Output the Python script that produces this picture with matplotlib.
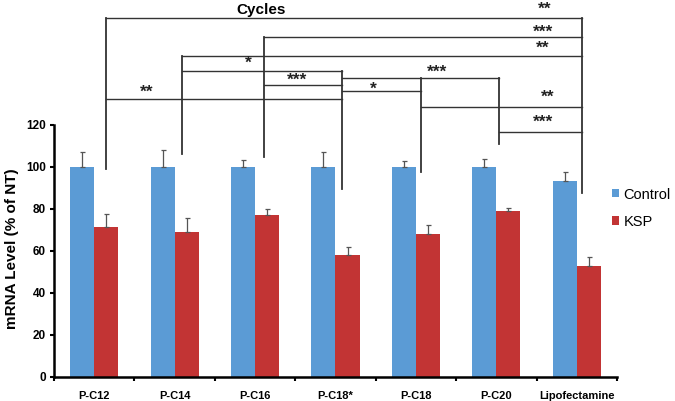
import numpy as np
import matplotlib
matplotlib.use("Agg")
import matplotlib.pyplot as plt

plt.rcParams['font.family'] = ['Liberation Sans', 'DejaVu Sans']

# data
categories = ["P-C12", "P-C14", "P-C16", "P-C18*", "P-C18", "P-C20", "Lipofectamine"]
control = [100, 100, 100, 100, 100, 100, 93.3]
control_err = [7.0, 8.2, 3.5, 7.0, 2.7, 4.0, 4.5]
ksp = [71.6, 69.2, 77.0, 58.1, 68.1, 78.9, 53.0]
ksp_err = [5.8, 6.7, 3.2, 3.6, 4.1, 1.7, 4.3]

# significance annotations
vline_offset = [0.15, 0.09, 0.11, 0.08, 0.06, 0.03, 0.06]
vline_bottom = [99, 106, 104.7, 89.3, 97.8, 111, 87.8]
vline_top = [171.1, 152.9, 161.8, 145.8, 142.5, 142.5, 171.1]
# (from category, to category, height, label, label x, label y)
brackets = [
    (0, 6, 171.1, "**", 5.60, 175.2),
    (2, 6, 161.8, "***", 5.58, 164.0),
    (1, 6, 152.9, "**", 5.58, 156.4),
    (1, 3, 145.8, "*", 1.92, 149.2),
    (3, 5, 142.5, "***", 4.26, 145.0),
    (2, 3, 139.2, "***", 2.52, 141.3),
    (3, 4, 136.3, "*", 3.47, 137.2),
    (0, 3, 132.2, "**", 0.65, 135.8),
    (4, 6, 128.7, "**", 5.64, 133.1),
    (5, 6, 116.5, "***", 5.58, 121.1),
]

blue = "#5B9BD5"
red = "#C23434"

fig = plt.figure(figsize=(6.75, 4.01), dpi=100)
ax = fig.add_axes([0.08, 0.06, 0.834, 0.94])

x = np.arange(len(categories))
w = 0.3
ax.bar(x - w / 2, control, w, color=blue, label="Control",
       yerr=[np.zeros(len(x)), control_err], ecolor="#555", capsize=1.8,
       error_kw=dict(elinewidth=0.9, capthick=0.9))
ax.bar(x + w / 2, ksp, w, color=red, label="KSP",
       yerr=[np.zeros(len(x)), ksp_err], ecolor="#555", capsize=1.8,
       error_kw=dict(elinewidth=0.9, capthick=0.9))

ax.set_xlim(-0.5, 6.5)
ax.set_ylim(0, 179.5)
ax.set_yticks(np.arange(0, 121, 20))
ax.set_xticks(x)
ax.set_xticklabels(categories, fontweight="bold", fontsize=8)
ax.set_xticks(np.arange(-0.5, 7, 1), minor=True)
ax.tick_params(axis="x", which="major", length=0, pad=10)
ax.tick_params(axis="x", which="minor", length=3, width=1.5, direction="out")
ax.tick_params(axis="y", length=3, width=1.5, direction="out", labelsize=8.5, pad=3)
for lab in ax.get_yticklabels():
    lab.set_fontweight("bold")

for s in ["top", "right"]:
    ax.spines[s].set_visible(False)
ax.spines["left"].set_bounds(0, 120)
ax.spines["left"].set_linewidth(1.8)
ax.spines["bottom"].set_linewidth(1.8)

ax.set_ylabel("mRNA Level (% of NT)", fontweight="bold", fontsize=11)
ax.yaxis.set_label_coords(-0.063, 0.34)

# brackets
lc = "#333333"
vx = x + np.array(vline_offset)
for i in range(len(categories)):
    ax.plot([vx[i], vx[i]], [vline_bottom[i], vline_top[i]], color=lc, lw=1.3, clip_on=False)
for a, b, h, lab, lx, ly in brackets:
    ax.plot([vx[a], vx[b]], [h, h], color=lc, lw=1.0, clip_on=False)
    ax.text(lx, ly, lab, ha="center", va="center", fontsize=12.5, fontweight="bold", color="#222")

ax.text(2.07, 174.5, "Cycles", ha="center", va="center", fontsize=11, fontweight="bold")

ax.legend(loc="center left", bbox_to_anchor=(0.968, 0.448), frameon=False, fontsize=10.5,
          handlelength=0.5, handleheight=0.5, handletextpad=0.3, labelspacing=0.9)

fig.savefig("out.png", dpi=100)
